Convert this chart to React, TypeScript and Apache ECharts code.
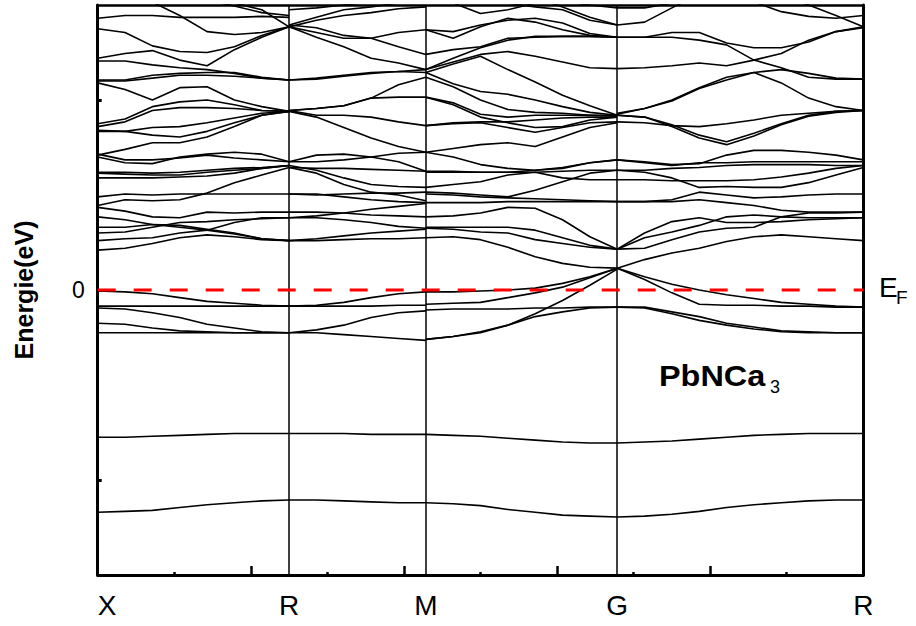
import React, { useEffect, useRef } from "react";
import * as echarts from "echarts";

// high-symmetry points (k-point index along the path) and their labels
const kHigh = [0, 7, 12, 19, 28];
const kLabels = ["X", "R", "M", "G", "R"];
const yTickValues = [-2, 0, 2];
const yLabelValues = [0];
const fermiLevel = 0;
// start index of each path segment
const segStart = { XR: 0, RM: 7, MG: 12, GR: 19 };

// two deep bands over the whole path (29 k-points), eV
const deepBandA = [-2.34, -2.33, -2.32, -2.29, -2.26, -2.24, -2.22, -2.21, -2.21, -2.22, -2.23, -2.24, -2.24, -2.25, -2.27, -2.31, -2.34, -2.37, -2.38, -2.39, -2.38, -2.36, -2.33, -2.29, -2.26, -2.24, -2.22, -2.21, -2.21];
const deepBandB = [-1.55, -1.55, -1.54, -1.53, -1.52, -1.51, -1.51, -1.51, -1.51, -1.51, -1.52, -1.52, -1.52, -1.53, -1.54, -1.56, -1.58, -1.60, -1.61, -1.61, -1.60, -1.59, -1.57, -1.55, -1.53, -1.52, -1.51, -1.51, -1.51];

// X -> R (8 k-points)
const bandsXR = [
  [-0.01, -0.02, -0.04, -0.08, -0.12, -0.14, -0.16, -0.17],
  [-0.17, -0.17, -0.17, -0.17, -0.17, -0.17, -0.17, -0.17],
  [-0.19, -0.2, -0.24, -0.29, -0.36, -0.4, -0.44, -0.45],
  [-0.35, -0.36, -0.4, -0.43, -0.44, -0.45, -0.45, -0.45],
  [-0.45, -0.45, -0.45, -0.45, -0.45, -0.45, -0.45, -0.45],
  [0.42, 0.44, 0.49, 0.55, 0.58, 0.56, 0.53, 0.52],
  [0.52, 0.54, 0.55, 0.6, 0.63, 0.71, 0.76, 0.76],
  [0.6, 0.61, 0.66, 0.71, 0.72, 0.74, 0.75, 0.76],
  [0.66, 0.66, 0.69, 0.68, 0.64, 0.6, 0.54, 0.52],
  [0.77, 0.74, 0.69, 0.66, 0.63, 0.59, 0.54, 0.52],
  [0.87, 0.83, 0.77, 0.76, 0.82, 0.81, 0.82, 0.82],
  [0.89, 0.95, 0.94, 0.95, 1.02, 1.13, 1.21, 1.29],
  [0.98, 1.01, 1.0, 1.01, 1.01, 1.01, 1.01, 1.01],
  [1.18, 1.18, 1.18, 1.19, 1.2, 1.23, 1.28, 1.31],
  [1.23, 1.22, 1.21, 1.21, 1.24, 1.26, 1.28, 1.31],
  [1.24, 1.24, 1.23, 1.24, 1.26, 1.28, 1.29, 1.31],
  [1.4, 1.34, 1.33, 1.4, 1.43, 1.45, 1.43, 1.35],
  [1.43, 1.37, 1.37, 1.39, 1.42, 1.39, 1.37, 1.35],
  [1.42, 1.48, 1.55, 1.55, 1.61, 1.72, 1.84, 1.88],
  [1.67, 1.67, 1.63, 1.61, 1.67, 1.76, 1.84, 1.88],
  [1.68, 1.67, 1.71, 1.72, 1.76, 1.81, 1.86, 1.88],
  [1.75, 1.8, 1.93, 1.98, 2.0, 1.95, 1.89, 1.88],
  [1.72, 1.77, 1.89, 1.92, 1.92, 1.91, 1.89, 1.88],
  [2.18, 2.11, 2.0, 2.13, 2.14, 2.0, 1.93, 1.88],
  [2.21, 2.21, 2.26, 2.28, 2.29, 2.29, 2.24, 2.21],
  [2.2, 2.2, 2.23, 2.26, 2.26, 2.25, 2.23, 2.21],
  [2.41, 2.41, 2.37, 2.34, 2.32, 2.28, 2.23, 2.21],
  [2.44, 2.49, 2.52, 2.42, 2.36, 2.53, 2.66, 2.77],
  [2.75, 2.71, 2.57, 2.51, 2.5, 2.56, 2.68, 2.77],
  [2.86, 2.89, 2.89, 2.87, 2.87, 2.87, 2.88, 2.87],
  [3.15, 3.1, 3.03, 2.89, 2.72, 2.69, 2.71, 2.77],
  [3.3, 3.25, 3.2, 3.12, 3.05, 2.99, 2.92, 2.89],
  [3.4, 3.35, 3.3, 3.2, 3.1, 3.02, 2.95, 2.77],
];

// R -> M (6 k-points)
const bandsRM = [
  [-0.17, -0.16, -0.13, -0.08, -0.04, -0.02],
  [-0.17, -0.17, -0.17, -0.17, -0.16, -0.16],
  [-0.45, -0.42, -0.37, -0.29, -0.24, -0.22],
  [-0.45, -0.45, -0.47, -0.49, -0.51, -0.53],
  [0.52, 0.54, 0.57, 0.6, 0.62, 0.64],
  [0.52, 0.52, 0.53, 0.54, 0.54, 0.55],
  [0.76, 0.76, 0.74, 0.71, 0.67, 0.65],
  [0.82, 0.82, 0.81, 0.79, 0.78, 0.77],
  [0.76, 0.78, 0.81, 0.85, 0.88, 0.91],
  [1.01, 1.01, 0.98, 0.95, 0.93, 0.92],
  [1.01, 1.0, 1.01, 1.02, 1.02, 1.03],
  [1.31, 1.26, 1.18, 1.11, 1.09, 1.08],
  [1.29, 1.23, 1.11, 1.03, 1.0, 0.94],
  [1.29, 1.28, 1.28, 1.27, 1.26, 1.25],
  [1.35, 1.42, 1.43, 1.4, 1.35, 1.25],
  [1.35, 1.35, 1.37, 1.4, 1.44, 1.45],
  [1.88, 1.82, 1.71, 1.6, 1.51, 1.45],
  [1.89, 1.84, 1.84, 1.82, 1.77, 1.73],
  [1.89, 1.91, 1.94, 2.02, 2.03, 2.03],
  [1.89, 1.91, 1.94, 2.02, 2.16, 2.24],
  [2.21, 2.23, 2.26, 2.29, 2.3, 2.32],
  [2.21, 2.22, 2.25, 2.28, 2.3, 2.29],
  [2.77, 2.66, 2.56, 2.44, 2.39, 2.32],
  [2.79, 2.76, 2.68, 2.65, 2.56, 2.48],
  [2.77, 2.71, 2.65, 2.65, 2.71, 2.74],
  [2.77, 2.84, 2.89, 2.92, 2.96, 2.98],
  [2.79, 2.87, 2.95, 2.98, 3.02, 3.05],
  [2.95, 2.97, 3.0, 3.03, 3.05, 3.07],
];

// M -> G (8 k-points)
const bandsMG = [
  [-0.02, -0.02, -0.01, 0.0, 0.02, 0.07, 0.14, 0.23],
  [-0.15, -0.14, -0.13, -0.08, -0.03, 0.03, 0.13, 0.23],
  [-0.21, -0.2, -0.2, -0.2, -0.19, -0.19, -0.18, -0.18],
  [-0.52, -0.49, -0.45, -0.37, -0.25, -0.11, 0.05, 0.22],
  [-0.52, -0.49, -0.44, -0.37, -0.28, -0.23, -0.19, -0.18],
  [0.55, 0.56, 0.53, 0.45, 0.35, 0.28, 0.24, 0.23],
  [0.65, 0.64, 0.61, 0.6, 0.53, 0.49, 0.45, 0.43],
  [0.66, 0.66, 0.66, 0.66, 0.63, 0.55, 0.47, 0.43],
  [0.77, 0.78, 0.81, 0.87, 0.86, 0.74, 0.56, 0.43],
  [0.92, 0.92, 0.92, 0.93, 0.93, 0.93, 0.93, 0.93],
  [1.01, 1.0, 0.98, 0.97, 0.96, 0.95, 0.94, 0.93],
  [1.03, 1.02, 1.0, 0.98, 1.05, 1.14, 1.23, 1.26],
  [1.08, 1.11, 1.14, 1.21, 1.24, 1.18, 1.16, 1.16],
  [1.24, 1.24, 1.24, 1.24, 1.24, 1.25, 1.26, 1.26],
  [1.25, 1.25, 1.24, 1.24, 1.26, 1.29, 1.34, 1.37],
  [1.45, 1.4, 1.32, 1.28, 1.26, 1.28, 1.34, 1.37],
  [1.45, 1.49, 1.53, 1.55, 1.51, 1.61, 1.71, 1.76],
  [1.73, 1.76, 1.77, 1.77, 1.79, 1.81, 1.82, 1.82],
  [1.73, 1.75, 1.76, 1.71, 1.66, 1.71, 1.76, 1.77],
  [2.03, 1.95, 1.82, 1.76, 1.71, 1.72, 1.79, 1.82],
  [2.03, 1.97, 1.85, 1.82, 1.84, 1.84, 1.84, 1.83],
  [2.24, 2.14, 2.0, 1.9, 1.87, 1.86, 1.84, 1.84],
  [2.29, 2.17, 2.09, 2.06, 2.0, 1.93, 1.87, 1.84],
  [2.29, 2.38, 2.46, 2.32, 2.19, 2.05, 1.94, 1.84],
  [2.32, 2.4, 2.48, 2.51, 2.46, 2.4, 2.34, 2.33],
  [2.32, 2.44, 2.55, 2.63, 2.67, 2.67, 2.67, 2.66],
  [2.48, 2.53, 2.56, 2.65, 2.66, 2.67, 2.67, 2.66],
  [2.74, 2.65, 2.77, 2.86, 2.82, 2.74, 2.68, 2.66],
  [2.74, 2.72, 2.79, 2.84, 2.86, 2.81, 2.7, 2.66],
  [3.1, 3.07, 3.05, 3.02, 2.98, 2.95, 2.84, 2.79],
  [3.08, 3.02, 2.91, 2.95, 3.02, 3.1, 3.14, 3.16],
  [3.2, 3.18, 3.15, 3.12, 3.08, 2.98, 2.87, 2.79],
  [3.15, 3.12, 3.1, 3.08, 3.06, 3.04, 3.0, 2.97],
];

// G -> R (10 k-points)
const bandsGR = [
  [0.23, 0.11, -0.03, -0.15, -0.16, -0.16, -0.17, -0.17, -0.18, -0.18],
  [0.23, 0.14, 0.06, 0.0, -0.05, -0.09, -0.13, -0.15, -0.17, -0.18],
  [-0.18, -0.18, -0.23, -0.28, -0.35, -0.39, -0.43, -0.44, -0.45, -0.45],
  [-0.18, -0.19, -0.25, -0.32, -0.37, -0.41, -0.44, -0.45, -0.45, -0.45],
  [0.23, 0.32, 0.39, 0.44, 0.51, 0.56, 0.58, 0.56, 0.54, 0.52],
  [0.43, 0.6, 0.72, 0.76, 0.71, 0.71, 0.72, 0.74, 0.75, 0.76],
  [0.43, 0.55, 0.61, 0.68, 0.77, 0.79, 0.77, 0.76, 0.76, 0.76],
  [0.43, 0.44, 0.53, 0.61, 0.65, 0.66, 0.77, 0.81, 0.81, 0.82],
  [0.93, 0.93, 0.95, 1.03, 1.0, 0.97, 0.98, 1.0, 1.01, 1.01],
  [0.93, 0.93, 0.93, 0.95, 0.92, 0.89, 0.84, 0.82, 0.82, 0.82],
  [1.16, 1.16, 1.15, 1.15, 1.15, 1.16, 1.19, 1.23, 1.28, 1.31],
  [1.26, 1.24, 1.18, 1.08, 1.09, 1.08, 1.08, 1.13, 1.21, 1.29],
  [1.26, 1.26, 1.28, 1.29, 1.31, 1.32, 1.32, 1.32, 1.31, 1.31],
  [1.37, 1.35, 1.32, 1.33, 1.42, 1.47, 1.47, 1.45, 1.42, 1.37],
  [1.37, 1.34, 1.31, 1.34, 1.34, 1.35, 1.35, 1.35, 1.35, 1.35],
  [1.77, 1.76, 1.73, 1.72, 1.75, 1.79, 1.84, 1.86, 1.88, 1.89],
  [1.84, 1.82, 1.74, 1.63, 1.56, 1.65, 1.75, 1.84, 1.88, 1.89],
  [1.84, 1.82, 1.72, 1.6, 1.53, 1.62, 1.74, 1.83, 1.87, 1.89],
  [1.86, 1.91, 1.99, 2.12, 2.21, 2.29, 2.18, 2.02, 1.93, 1.89],
  [1.85, 1.91, 2.0, 2.13, 2.24, 2.29, 2.32, 2.28, 2.23, 2.22],
  [2.33, 2.34, 2.36, 2.39, 2.36, 2.42, 2.49, 2.63, 2.72, 2.76],
  [2.66, 2.66, 2.66, 2.63, 2.58, 2.42, 2.34, 2.24, 2.22, 2.22],
  [2.66, 2.66, 2.71, 2.71, 2.6, 2.55, 2.55, 2.61, 2.72, 2.77],
  [2.79, 2.82, 2.97, 3.11, 3.16, 3.16, 3.14, 3.11, 3.07, 3.05],
  [2.97, 2.97, 3.02, 3.08, 3.12, 3.12, 3.1, 3.08, 3.05, 3.03],
  [3.2, 3.18, 3.16, 3.14, 3.1, 3.03, 2.93, 2.88, 2.86, 2.89],
  [3.3, 3.28, 3.25, 3.22, 3.18, 3.14, 3.1, 3.0, 2.89, 2.77],
];

const FONT = "Liberation Sans, Arial, Helvetica, sans-serif";

export default function App() {
  const ref = useRef<HTMLDivElement>(null);

  useEffect(() => {
    const chart = echarts.init(ref.current!, null, { renderer: "svg" });

    const bandSeries: any[] = [];
    const addBand = (start: number, vals: number[]) => {
      bandSeries.push({
        type: "line",
        data: vals.map((e, j) => [start + j, e]),
        showSymbol: false,
        symbol: "none",
        silent: true,
        clip: true,
        z: 2,
        lineStyle: { color: "#000", width: 1.6 },
      });
    };
    addBand(0, deepBandA);
    addBand(0, deepBandB);
    bandsXR.forEach((b) => addBand(segStart.XR, b));
    bandsRM.forEach((b) => addBand(segStart.RM, b));
    bandsMG.forEach((b) => addBand(segStart.MG, b));
    bandsGR.forEach((b) => addBand(segStart.GR, b));

    const option: any = {
      animation: false,
      grid: { left: 97.7, right: 52.7, top: 5, bottom: 51, containLabel: false },
      xAxis: [
        {
          type: "value",
          min: 0,
          max: 28,
          interval: 5.6,
          position: "bottom",
          axisLine: { show: true, onZero: false, lineStyle: { color: "#000", width: 3 } },
          axisTick: { show: true, inside: true, length: 9, lineStyle: { color: "#000", width: 2.5 } },
          minorTick: { show: true, splitNumber: 2, length: 3, lineStyle: { color: "#000", width: 2.5 } },
          splitLine: { show: false },
          minorSplitLine: { show: false },
          axisLabel: {
            customValues: kHigh,
            formatter: (v: number) => {
              const i = kHigh.indexOf(Math.round(v));
              return i >= 0 ? kLabels[i] : "";
            },
            alignMinLabel: "left",
            color: "#000",
            fontSize: 28,
            fontFamily: FONT,
            margin: 16,
          },
        },
        {
          type: "value",
          min: 0,
          max: 28,
          position: "top",
          axisLine: { show: true, onZero: false, lineStyle: { color: "#000", width: 2.5 } },
          axisTick: { show: false },
          axisLabel: { show: false },
          splitLine: { show: false },
        },
      ],
      yAxis: [
        {
          type: "value",
          min: -3,
          max: 3,
          position: "left",
          name: "Energie(eV)",
          nameLocation: "middle",
          nameGap: 61,
          nameTextStyle: { color: "#000", fontSize: 25, fontWeight: "bold", fontFamily: FONT },
          axisLine: { show: true, onZero: false, lineStyle: { color: "#000", width: 3 } },
          axisTick: { show: true, inside: true, length: 4, customValues: yTickValues, lineStyle: { color: "#000", width: 3 } },
          splitLine: { show: false },
          axisLabel: {
            customValues: yLabelValues,
            color: "#000",
            fontSize: 23,
            fontFamily: FONT,
            margin: 13,
          },
        },
        {
          type: "value",
          min: -3,
          max: 3,
          position: "right",
          axisLine: { show: true, onZero: false, lineStyle: { color: "#000", width: 3 } },
          axisTick: { show: false },
          axisLabel: { show: false },
          splitLine: { show: false },
        },
      ],
      series: [
        ...bandSeries,
        {
          type: "line",
          data: [],
          silent: true,
          markLine: {
            silent: true,
            symbol: ["none", "none"],
            label: { show: false },
            lineStyle: { color: "#000", type: "solid", width: 1.5 },
            data: kHigh.slice(1, kHigh.length - 1).map((k) => ({ xAxis: k })),
          },
        },
        {
          type: "line",
          data: [
            [kHigh[0], fermiLevel],
            [kHigh[kHigh.length - 1], fermiLevel],
          ],
          showSymbol: false,
          symbol: "none",
          silent: true,
          z: 10,
          lineStyle: { color: "#ff0000", width: 3, type: [18, 18] },
        },
      ],
      graphic: [
        {
          type: "text",
          left: 879,
          top: 273,
          style: { text: "E", fontSize: 28, fontFamily: FONT, fill: "#000" },
        },
        {
          type: "text",
          left: 896,
          top: 288,
          style: { text: "F", fontSize: 19, fontFamily: FONT, fill: "#000" },
        },
        {
          type: "text",
          left: 659,
          top: 361,
          scaleX: 1.08,
          style: { text: "PbNCa", fontSize: 30, fontWeight: "bold", fontFamily: FONT, fill: "#000" },
        },
        {
          type: "text",
          left: 770,
          top: 378,
          style: { text: "3", fontSize: 18, fontFamily: FONT, fill: "#000" },
        },
      ],
    };

    chart.setOption(option);
    return () => chart.dispose();
  }, []);

  return (
    <div
      ref={ref}
      style={{ position: "absolute", left: 0, top: 0, width: 916, height: 626, background: "#fff" }}
    />
  );
}
